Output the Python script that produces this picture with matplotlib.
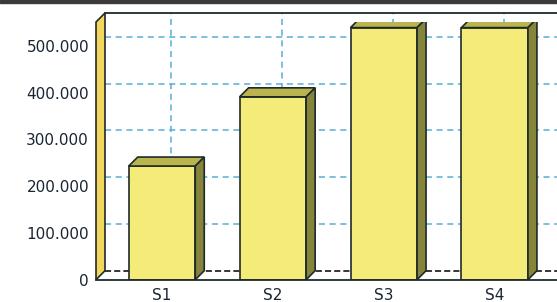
import numpy as np
import matplotlib
matplotlib.use('Agg')
import matplotlib.pyplot as plt
from matplotlib.patches import Polygon, Rectangle

# data
categories = ['S1', 'S2', 'S3', 'S4']
values = [243000, 391000, 539000, 539000]
yticks = [0, 100000, 200000, 300000, 400000, 500000]
ytick_labels = ['0', '100.000', '200.000', '300.000', '400.000', '500.000']

W, H = 557, 302
fig = plt.figure(figsize=(W / 100, H / 100), dpi=100)
fig.patch.set_facecolor('white')

# front plane of the box, the right part runs off the picture
ax = fig.add_axes([96 / W, (H - 279.7) / H, (W - 96) / W, 257.7 / H])
x = np.arange(len(categories))
xmin, xmax = -0.595, 3.562
ymax = 551000
ax.set_xlim(xmin, xmax)
ax.set_ylim(0, ymax)
for s in ax.spines.values():
    s.set_visible(False)
ax.patch.set_visible(False)

# depth of the fake 3d effect (about 9 px), in data units
dx = 9 / 110.9
dy = 9 * ymax / 257.7

edge = '#1e2b2a'
grid_c = '#5aaed6'
front_c = '#f5eb78'
top_c = '#bab44e'
side_c = '#85843a'
wall_c = '#f2d65e'

# back plane: grid lines
for v in yticks[1:]:
    ax.plot([xmin + dx, xmax + dx], [v + dy, v + dy], color=grid_c, lw=1.1,
            ls=(0, (4, 3)), zorder=1, clip_on=False)
for xi in x:
    ax.plot([xi + dx, xi + dx], [dy, ymax + dy], color=grid_c, lw=1.1,
            ls=(0, (4, 3)), zorder=1, clip_on=False)
# back floor edge and top edge
ax.plot([xmin + dx, xmax + dx], [dy, dy], color='k', lw=1.1,
        ls=(0, (4, 2)), zorder=1, clip_on=False)
ax.plot([xmin + dx, xmax + dx], [ymax + dy, ymax + dy], color=edge, lw=1.3,
        zorder=1, clip_on=False)

# left wall
ax.fill([xmin, xmin, xmin + dx, xmin + dx], [0, ymax, ymax + dy, dy],
        fc=wall_c, ec=edge, lw=1.2, zorder=2, clip_on=False)

# bars with top and side faces
bw = 0.6
ax.bar(x, values, width=bw, color=front_c, edgecolor=edge, lw=1.2, zorder=3)
for xi, v in zip(x, values):
    l, r = xi - bw / 2, xi + bw / 2
    top = Polygon([(l, v), (r, v), (r + dx, v + dy), (l + dx, v + dy)],
                  closed=True, fc=top_c, ec=edge, lw=1.2, zorder=3)
    side = Polygon([(r, 0), (r, v), (r + dx, v + dy), (r + dx, dy)],
                   closed=True, fc=side_c, ec=edge, lw=1.2, zorder=3)
    ax.add_patch(top)
    ax.add_patch(side)

# front floor edge
ax.plot([xmin, xmax], [0, 0], color=edge, lw=1.3, zorder=5, clip_on=False)

ax.set_yticks(yticks, ytick_labels)
ax.set_xticks(x, categories)
ax.tick_params(axis='y', length=0, pad=5, labelsize=11, labelcolor='#1a2533')
ax.tick_params(axis='x', length=0, pad=6, labelsize=11, labelcolor='#1a2533')

# dark strip along the top of the picture
fig.add_artist(Rectangle((0, 1 - 3 / H), 1, 3 / H, transform=fig.transFigure,
                         color='#3a3a3a', zorder=10))

fig.savefig('out.png', dpi=100)
